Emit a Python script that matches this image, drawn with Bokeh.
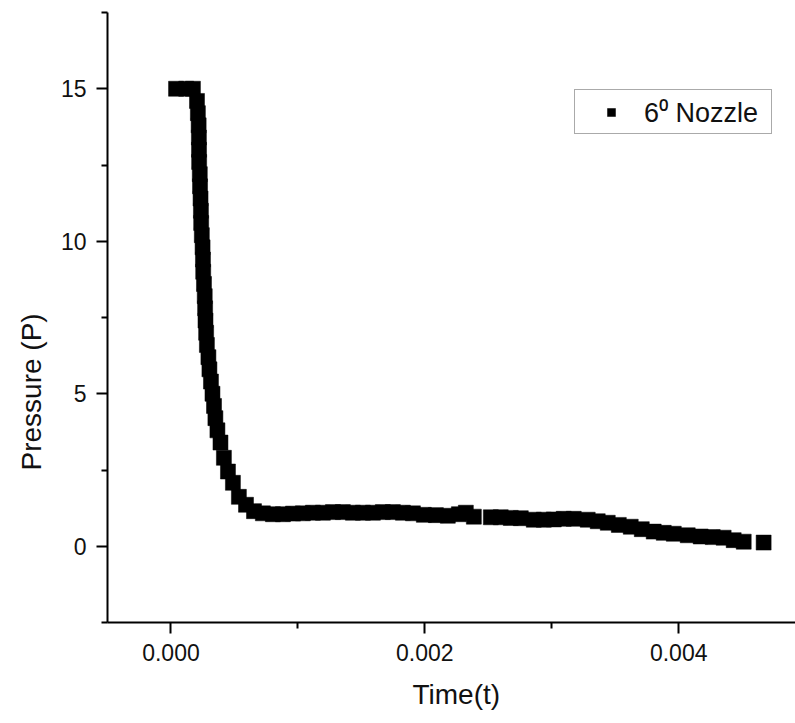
from bokeh.plotting import figure
from bokeh.models import Range1d, FixedTicker, NumeralTickFormatter, Title, Legend, LegendItem
from bokeh.embed import file_html
from bokeh.resources import INLINE

# Data
time_s = [0.00004, 0.00012, 0.000173, 0.000205, 0.000212, 0.000218, 0.000220, 0.000221,
          0.000222, 0.000227, 0.000229, 0.000233, 0.000236, 0.000238, 0.000243, 0.000249,
          0.000252, 0.000254, 0.000260, 0.000266, 0.000269, 0.000272, 0.000277, 0.000283,
          0.000295, 0.000303, 0.000315, 0.000327, 0.000339, 0.000350, 0.000366, 0.000390,
          0.000417, 0.000449, 0.000488, 0.000535, 0.000591,
          0.000654, 0.000724, 0.000803, 0.000882, 0.000961, 0.001039, 0.001118, 0.001197,
          0.001276, 0.001354, 0.001433, 0.001512, 0.001591, 0.001669, 0.001748, 0.001827,
          0.001906, 0.001992, 0.002087, 0.002181, 0.002268, 0.002323, 0.002386, 0.002520,
          0.002598, 0.002677, 0.002756, 0.002858, 0.002937, 0.003016, 0.003094, 0.003173,
          0.003283, 0.003362, 0.003441, 0.003528, 0.003622, 0.003709, 0.003803, 0.003882,
          0.003961, 0.004071, 0.004173, 0.004268, 0.004354, 0.004433, 0.004512, 0.004669]
pressure = [15.0, 15.0, 15.0, 14.6, 14.2, 13.8, 13.4, 13.0,
            12.6, 12.2, 11.8, 11.4, 11.0, 10.6, 10.2, 9.8,
            9.4, 9.0, 8.6, 8.2, 7.8, 7.4, 7.0, 6.6,
            6.2, 5.8, 5.4, 5.0, 4.6, 4.2, 3.8, 3.4,
            2.9, 2.45, 2.08, 1.62, 1.36,
            1.15, 1.08, 1.05, 1.05, 1.07, 1.08, 1.10, 1.10,
            1.12, 1.12, 1.10, 1.10, 1.10, 1.12, 1.12, 1.10,
            1.08, 1.03, 1.02, 1.00, 1.05, 1.10, 0.97, 0.95,
            0.95, 0.93, 0.92, 0.87, 0.87, 0.88, 0.90, 0.90,
            0.87, 0.82, 0.77, 0.70, 0.64, 0.56, 0.48, 0.44,
            0.41, 0.36, 0.32, 0.30, 0.28, 0.20, 0.15, 0.12]
series_name = "6\u2070 Nozzle"
x_ticks = [0.0, 0.002, 0.004]
x_minor = [0.001, 0.003]
y_ticks = [0, 5, 10, 15]
y_minor = [-2.5, 2.5, 7.5, 12.5, 17.5]
x_title = "Time(t)"
y_title = "Pressure (P)"

FONT = "Liberation Sans"
INK = "#111111"

p = figure(width=795, height=723, output_backend="svg", toolbar_location=None,
           x_range=Range1d(-0.0005, 0.00492), y_range=Range1d(-2.5, 17.5),
           min_border_left=107, min_border_right=0, min_border_top=12, min_border_bottom=101)
p.grid.visible = False
p.outline_line_color = None
p.background_fill_color = "white"
p.border_fill_color = "white"

r = p.scatter(time_s, pressure, marker="square", size=15, fill_color="black",
              line_color="black", line_width=0.5)

for ax in (p.xaxis[0], p.yaxis[0]):
    ax.axis_line_color = "black"
    ax.axis_line_width = 2
    ax.major_tick_line_color = "black"
    ax.major_tick_line_width = 2
    ax.minor_tick_line_color = "black"
    ax.minor_tick_line_width = 2
    ax.major_tick_in = 0
    ax.major_tick_out = 11
    ax.minor_tick_in = 0
    ax.minor_tick_out = 6
    ax.major_label_text_font = FONT
    ax.major_label_text_font_size = "23px"
    ax.major_label_text_color = INK
    ax.major_label_standoff = 10

p.xaxis[0].ticker = FixedTicker(ticks=x_ticks, minor_ticks=x_minor)
p.xaxis[0].formatter = NumeralTickFormatter(format="0.000")
p.yaxis[0].ticker = FixedTicker(ticks=y_ticks, minor_ticks=y_minor)
p.yaxis[0].formatter = NumeralTickFormatter(format="0")

# axis titles placed as in the reference (not centred on the frame)
p.add_layout(Title(text=x_title, align="left", offset=305, standoff=26,
                   text_font=FONT, text_font_size="28px", text_font_style="normal",
                   text_color=INK), "below")
p.add_layout(Title(text=y_title, align="left", offset=152, standoff=22,
                   text_font=FONT, text_font_size="28px", text_font_style="normal",
                   text_color=INK), "left")

legend = Legend(items=[LegendItem(label=series_name, renderers=[r])],
                location=(467, 488), orientation="vertical")
legend.margin = 0
legend.padding = 3
legend.glyph_width = 66
legend.glyph_height = 20
legend.label_standoff = 0
legend.label_width = 124
legend.label_text_font = FONT
legend.label_text_font_size = "27px"
legend.label_text_color = INK
legend.border_line_color = "#555555"
legend.border_line_width = 1.5
legend.background_fill_color = "white"
legend.background_fill_alpha = 1.0
p.add_layout(legend)

open("out.html", "w").write(file_html(p, INLINE))
